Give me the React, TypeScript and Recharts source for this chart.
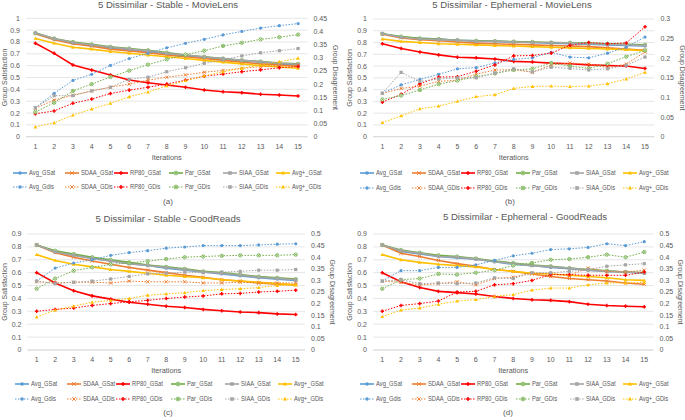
import React from 'react';
import { LineChart, Line, XAxis, YAxis, CartesianGrid, Legend } from 'recharts';

const iterations = [1, 2, 3, 4, 5, 6, 7, 8, 9, 10, 11, 12, 13, 14, 15];
const satLabels = ['Avg_GSat', 'SDAA_GSat', 'RP80_GSat', 'Par_GSat', 'SIAA_GSat', 'Avg+_GSat'];
const disLabels = ['Avg_Gdis', 'SDAA_GDis', 'RP80_GDis', 'Par_GDis', 'SIAA_GDis', 'Avg+_GDis'];
const colors = ['#5B9BD5', '#ED7D31', '#FF0000', '#70AD47', '#A5A5A5', '#FFC000'];
const shapes = ['circle', 'x', 'plus', 'xcircle', 'square', 'triangle'];

const leftTicks10 = [0, 0.1, 0.2, 0.3, 0.4, 0.5, 0.6, 0.7, 0.8, 0.9, 1];
const leftTicks09 = [0, 0.1, 0.2, 0.3, 0.4, 0.5, 0.6, 0.7, 0.8, 0.9];
const rightTicks045 = [0, 0.05, 0.1, 0.15, 0.2, 0.25, 0.3, 0.35, 0.4, 0.45];
const rightTicks03 = [0, 0.05, 0.1, 0.15, 0.2, 0.25, 0.3];
const rightTicks05 = [0, 0.05, 0.1, 0.15, 0.2, 0.25, 0.3, 0.35, 0.4, 0.45, 0.5];

// (a) Stable - MovieLens
const aAvgGSat = [0.875, 0.825, 0.79, 0.77, 0.75, 0.735, 0.72, 0.7, 0.685, 0.67, 0.655, 0.64, 0.63, 0.615, 0.605];
const aSdaaGSat = [0.87, 0.82, 0.785, 0.765, 0.74, 0.725, 0.71, 0.69, 0.675, 0.66, 0.645, 0.63, 0.615, 0.605, 0.595];
const aRp80GSat = [0.789, 0.704, 0.606, 0.563, 0.521, 0.479, 0.456, 0.437, 0.417, 0.394, 0.38, 0.372, 0.358, 0.352, 0.344];
const aParGSat = [0.875, 0.83, 0.8, 0.78, 0.76, 0.745, 0.73, 0.71, 0.69, 0.675, 0.66, 0.645, 0.635, 0.622, 0.615];
const aSiaaGSat = [0.875, 0.828, 0.795, 0.775, 0.755, 0.74, 0.725, 0.705, 0.69, 0.673, 0.66, 0.645, 0.633, 0.62, 0.612];
const aAvgPGSat = [0.83, 0.79, 0.755, 0.74, 0.72, 0.705, 0.69, 0.675, 0.66, 0.645, 0.63, 0.615, 0.6, 0.59, 0.578];
const aAvgGDis = [0.11, 0.165, 0.214, 0.237, 0.271, 0.297, 0.317, 0.338, 0.355, 0.37, 0.387, 0.4, 0.413, 0.422, 0.43];
const aSdaaGDis = [0.108, 0.139, 0.158, 0.174, 0.188, 0.2, 0.215, 0.226, 0.235, 0.245, 0.252, 0.26, 0.266, 0.27, 0.272];
const aRp80GDis = [0.087, 0.098, 0.127, 0.143, 0.164, 0.177, 0.188, 0.2, 0.215, 0.23, 0.238, 0.247, 0.254, 0.262, 0.267];
const aParGDis = [0.094, 0.129, 0.174, 0.2, 0.227, 0.251, 0.274, 0.294, 0.312, 0.327, 0.345, 0.357, 0.37, 0.378, 0.388];
const aSiaaGDis = [0.11, 0.156, 0.156, 0.174, 0.188, 0.218, 0.226, 0.247, 0.262, 0.279, 0.292, 0.307, 0.319, 0.327, 0.335];
const aAvgPGDis = [0.037, 0.053, 0.082, 0.105, 0.127, 0.152, 0.17, 0.193, 0.213, 0.231, 0.247, 0.26, 0.272, 0.285, 0.298];

// (b) Ephemeral - MovieLens
const bAvgGSat = [0.875, 0.845, 0.835, 0.83, 0.82, 0.815, 0.81, 0.805, 0.8, 0.795, 0.79, 0.785, 0.78, 0.775, 0.77];
const bSdaaGSat = [0.87, 0.84, 0.825, 0.815, 0.805, 0.795, 0.79, 0.785, 0.78, 0.775, 0.77, 0.765, 0.755, 0.745, 0.735];
const bRp80GSat = [0.79, 0.75, 0.72, 0.695, 0.675, 0.67, 0.66, 0.64, 0.635, 0.625, 0.62, 0.61, 0.605, 0.6, 0.58];
const bParGSat = [0.875, 0.85, 0.835, 0.83, 0.82, 0.815, 0.812, 0.808, 0.805, 0.8, 0.798, 0.795, 0.79, 0.785, 0.78];
const bSiaaGSat = [0.875, 0.845, 0.83, 0.825, 0.82, 0.81, 0.81, 0.805, 0.8, 0.8, 0.795, 0.79, 0.785, 0.78, 0.775];
const bAvgPGSat = [0.83, 0.81, 0.8, 0.79, 0.785, 0.78, 0.775, 0.77, 0.765, 0.76, 0.755, 0.75, 0.745, 0.74, 0.73];
const bAvgGDis = [0.111, 0.132, 0.146, 0.159, 0.173, 0.176, 0.188, 0.197, 0.201, 0.215, 0.203, 0.201, 0.213, 0.228, 0.254];
const bSdaaGDis = [0.11, 0.123, 0.129, 0.141, 0.144, 0.159, 0.17, 0.171, 0.164, 0.183, 0.188, 0.185, 0.176, 0.185, 0.216];
const bRp80GDis = [0.088, 0.108, 0.135, 0.152, 0.153, 0.167, 0.183, 0.206, 0.207, 0.213, 0.233, 0.24, 0.237, 0.239, 0.28];
const bParGDis = [0.095, 0.105, 0.119, 0.134, 0.143, 0.153, 0.161, 0.17, 0.173, 0.188, 0.18, 0.174, 0.186, 0.204, 0.22];
const bSiaaGDis = [0.111, 0.164, 0.141, 0.147, 0.15, 0.15, 0.162, 0.173, 0.165, 0.177, 0.174, 0.17, 0.173, 0.182, 0.203];
const bAvgPGDis = [0.036, 0.053, 0.071, 0.078, 0.09, 0.102, 0.107, 0.123, 0.128, 0.129, 0.128, 0.129, 0.135, 0.147, 0.164];

// (c) Stable - GoodReads
const cAvgGSat = [0.815, 0.76, 0.735, 0.71, 0.69, 0.67, 0.655, 0.635, 0.62, 0.605, 0.59, 0.575, 0.56, 0.55, 0.54];
const cSdaaGSat = [0.815, 0.755, 0.72, 0.69, 0.665, 0.64, 0.62, 0.6, 0.58, 0.565, 0.545, 0.535, 0.52, 0.51, 0.505];
const cRp80GSat = [0.6, 0.52, 0.46, 0.42, 0.395, 0.37, 0.355, 0.34, 0.33, 0.315, 0.305, 0.295, 0.29, 0.28, 0.275];
const cParGSat = [0.815, 0.77, 0.745, 0.72, 0.7, 0.68, 0.66, 0.645, 0.63, 0.61, 0.6, 0.585, 0.57, 0.56, 0.55];
const cSiaaGSat = [0.815, 0.76, 0.735, 0.71, 0.69, 0.67, 0.655, 0.64, 0.625, 0.605, 0.595, 0.58, 0.565, 0.555, 0.545];
const cAvgPGSat = [0.74, 0.695, 0.665, 0.645, 0.625, 0.61, 0.595, 0.58, 0.57, 0.56, 0.545, 0.535, 0.525, 0.515, 0.505];
const cAvgGDis = [0.297, 0.353, 0.375, 0.389, 0.408, 0.42, 0.428, 0.439, 0.444, 0.45, 0.45, 0.45, 0.453, 0.456, 0.458];
const cSdaaGDis = [0.294, 0.289, 0.292, 0.292, 0.289, 0.297, 0.294, 0.294, 0.294, 0.289, 0.289, 0.292, 0.289, 0.289, 0.289];
const cRp80GDis = [0.167, 0.175, 0.181, 0.192, 0.2, 0.208, 0.214, 0.222, 0.228, 0.233, 0.242, 0.244, 0.25, 0.253, 0.258];
const cParGDis = [0.264, 0.308, 0.342, 0.356, 0.369, 0.375, 0.383, 0.392, 0.4, 0.403, 0.406, 0.408, 0.408, 0.408, 0.411];
const cSiaaGDis = [0.297, 0.286, 0.292, 0.297, 0.306, 0.317, 0.328, 0.331, 0.336, 0.333, 0.336, 0.339, 0.344, 0.344, 0.347];
const cAvgPGDis = [0.142, 0.172, 0.189, 0.206, 0.214, 0.222, 0.236, 0.242, 0.247, 0.256, 0.261, 0.264, 0.269, 0.278, 0.281];

// (d) Ephemeral - GoodReads
const dAvgGSat = [0.815, 0.765, 0.745, 0.725, 0.715, 0.705, 0.685, 0.665, 0.655, 0.64, 0.63, 0.62, 0.61, 0.605, 0.595];
const dSdaaGSat = [0.815, 0.75, 0.725, 0.695, 0.67, 0.65, 0.625, 0.61, 0.59, 0.57, 0.555, 0.545, 0.535, 0.52, 0.51];
const dRp80GSat = [0.6, 0.53, 0.485, 0.455, 0.445, 0.435, 0.415, 0.4, 0.39, 0.385, 0.375, 0.355, 0.345, 0.34, 0.335];
const dParGSat = [0.815, 0.775, 0.755, 0.735, 0.725, 0.71, 0.69, 0.675, 0.66, 0.65, 0.635, 0.625, 0.615, 0.605, 0.6];
const dSiaaGSat = [0.815, 0.77, 0.75, 0.725, 0.72, 0.705, 0.685, 0.67, 0.655, 0.645, 0.635, 0.62, 0.61, 0.605, 0.595];
const dAvgPGSat = [0.74, 0.7, 0.68, 0.665, 0.655, 0.645, 0.625, 0.61, 0.595, 0.59, 0.58, 0.57, 0.56, 0.545, 0.54];
const dAvgGDis = [0.297, 0.342, 0.342, 0.356, 0.356, 0.367, 0.386, 0.406, 0.417, 0.433, 0.436, 0.442, 0.458, 0.45, 0.467];
const dSdaaGDis = [0.297, 0.292, 0.281, 0.286, 0.294, 0.281, 0.308, 0.314, 0.331, 0.328, 0.322, 0.353, 0.339, 0.336, 0.344];
const dRp80GDis = [0.167, 0.192, 0.2, 0.211, 0.25, 0.253, 0.281, 0.286, 0.3, 0.325, 0.325, 0.322, 0.322, 0.322, 0.336];
const dParGDis = [0.264, 0.303, 0.308, 0.328, 0.325, 0.333, 0.344, 0.364, 0.375, 0.389, 0.392, 0.4, 0.411, 0.4, 0.422];
const dSiaaGDis = [0.297, 0.303, 0.286, 0.289, 0.286, 0.289, 0.311, 0.308, 0.333, 0.333, 0.339, 0.347, 0.361, 0.367, 0.372];
const dAvgPGDis = [0.144, 0.172, 0.181, 0.197, 0.211, 0.217, 0.231, 0.239, 0.258, 0.267, 0.267, 0.281, 0.289, 0.289, 0.292];

const FONT = '"Liberation Sans", Arial, sans-serif';
const TEXT = '#595959';
const colOffsets = [0, 52, 101, 156, 210, 263];

const panels = [
  {
    key: 'a', title: '5 Dissimilar - Stable - MovieLens', label: '(a)',
    left: 0, top: 0, width: 342, height: 210,
    plotLeft: 26, plotRight: 307.5, plotTop: 18.3, plotBottom: 136.7,
    leftMax: 1, leftTicks: leftTicks10, rightMax: 0.45, rightTicks: rightTicks045,
    titleX: 168, titleY: 5, labelX: 168, legendBase: 13, rows: [9, 23, 38],
    leftLabelX: 5, rightLabelX: 335,
    sat: [aAvgGSat, aSdaaGSat, aRp80GSat, aParGSat, aSiaaGSat, aAvgPGSat],
    dis: [aAvgGDis, aSdaaGDis, aRp80GDis, aParGDis, aSiaaGDis, aAvgPGDis],
  },
  {
    key: 'b', title: '5 Dissimilar - Ephemeral - MovieLens', label: '(b)',
    left: 340, top: 0, width: 345, height: 210,
    plotLeft: 33, plotRight: 314.4, plotTop: 19, plotBottom: 136.7,
    leftMax: 1, leftTicks: leftTicks10, rightMax: 0.3, rightTicks: rightTicks03,
    titleX: 172, titleY: 5, labelX: 170, legendBase: 20, rows: [9, 24, 38],
    leftLabelX: 10, rightLabelX: 342,
    sat: [bAvgGSat, bSdaaGSat, bRp80GSat, bParGSat, bSiaaGSat, bAvgPGSat],
    dis: [bAvgGDis, bSdaaGDis, bRp80GDis, bParGDis, bSiaaGDis, bAvgPGDis],
  },
  {
    key: 'c', title: '5 Dissimilar - Stable - GoodReads', label: '(c)',
    left: 0, top: 210, width: 342, height: 210,
    plotLeft: 27.4, plotRight: 305, plotTop: 24, plotBottom: 140,
    leftMax: 0.9, leftTicks: leftTicks09, rightMax: 0.5, rightTicks: rightTicks05,
    titleX: 168, titleY: 9, labelX: 168, legendBase: 15, rows: [10, 25, 39],
    leftLabelX: 5, rightLabelX: 332,
    sat: [cAvgGSat, cSdaaGSat, cRp80GSat, cParGSat, cSiaaGSat, cAvgPGSat],
    dis: [cAvgGDis, cSdaaGDis, cRp80GDis, cParGDis, cSiaaGDis, cAvgPGDis],
  },
  {
    key: 'd', title: '5 Dissimilar - Ephemeral - GoodReads', label: '(d)',
    left: 340, top: 210, width: 345, height: 210,
    plotLeft: 32.9, plotRight: 313.6, plotTop: 24, plotBottom: 140,
    leftMax: 0.9, leftTicks: leftTicks09, rightMax: 0.5, rightTicks: rightTicks05,
    titleX: 185, titleY: 7, labelX: 168, legendBase: 20, rows: [10, 25, 39],
    leftLabelX: 10, rightLabelX: 340,
    sat: [dAvgGSat, dSdaaGSat, dRp80GSat, dParGSat, dSiaaGSat, dAvgPGSat],
    dis: [dAvgGDis, dSdaaGDis, dRp80GDis, dParGDis, dSiaaGDis, dAvgPGDis],
  },
];

function Marker({ cx, cy, shape, color, s }: any) {
  if (cx == null || cy == null || isNaN(cx) || isNaN(cy)) return null;
  switch (shape) {
    case 'circle':
      return <circle cx={cx} cy={cy} r={s} fill={color} stroke="none" />;
    case 'square':
      return <rect x={cx - s} y={cy - s} width={2 * s} height={2 * s} fill={color} stroke="none" />;
    case 'triangle':
      return (
        <polygon
          points={`${cx},${cy - s * 1.2} ${cx - s * 1.15},${cy + s * 0.9} ${cx + s * 1.15},${cy + s * 0.9}`}
          fill={color}
          stroke="none"
        />
      );
    case 'x':
      return (
        <g stroke={color} strokeWidth={1} fill="none" strokeDasharray="none">
          <line x1={cx - s} y1={cy - s} x2={cx + s} y2={cy + s} />
          <line x1={cx - s} y1={cy + s} x2={cx + s} y2={cy - s} />
        </g>
      );
    case 'plus':
      return (
        <g stroke={color} strokeWidth={1.4} fill="none" strokeDasharray="none">
          <line x1={cx - s * 1.1} y1={cy} x2={cx + s * 1.1} y2={cy} />
          <line x1={cx} y1={cy - s * 1.1} x2={cx} y2={cy + s * 1.1} />
        </g>
      );
    case 'xcircle':
    default:
      return (
        <g stroke={color} strokeWidth={0.8} fill="none" strokeDasharray="none">
          <circle cx={cx} cy={cy} r={s * 1.05} fill="#fff" />
          <line x1={cx - s * 0.7} y1={cy - s * 0.7} x2={cx + s * 0.7} y2={cy + s * 0.7} />
          <line x1={cx - s * 0.7} y1={cy + s * 0.7} x2={cx + s * 0.7} y2={cy - s * 0.7} />
        </g>
      );
  }
}

const makeDot = (shape: string, color: string, s: number, tag: string) => (p: any) => (
  <Marker key={`${tag}-${p.index}`} cx={p.cx} cy={p.cy} shape={shape} color={color} s={s} />
);

function LegendBox({ cfg }: any) {
  const names = satLabels.concat(disLabels);
  return (
    <div style={{ position: 'relative', width: cfg.width, height: 46, fontFamily: FONT, fontSize: 7.6, color: TEXT }}>
      {names.map((name, i) => {
        const j = i % 6;
        const row = Math.floor(i / 6);
        const dashed = row === 1;
        return (
          <div
            key={name}
            style={{
              position: 'absolute', left: cfg.legendBase + colOffsets[j], top: cfg.rows[row] - 5,
              height: 10, display: 'flex', alignItems: 'center', whiteSpace: 'nowrap',
            }}
          >
            <svg width={14} height={8} style={{ display: 'block' }}>
              <line x1={0} y1={4} x2={14} y2={4} stroke={colors[j]} strokeWidth={dashed ? 1 : 1.6}
                strokeDasharray={dashed ? '1.5 1.5' : undefined} />
              <Marker cx={7} cy={4} shape={shapes[j]} color={colors[j]} s={1.8} />
            </svg>
            <span style={{
              marginLeft: 2, lineHeight: '10px', display: 'inline-block',
              transform: 'scaleX(0.76)', transformOrigin: 'left center',
            }}>{name}</span>
          </div>
        );
      })}
      <div style={{
        position: 'absolute', left: cfg.labelX - 20, width: 40, top: cfg.rows[2] - 6, height: 12,
        lineHeight: '12px', textAlign: 'center', fontSize: 8, color: TEXT,
      }}>{cfg.label}</div>
    </div>
  );
}

const fmt = (v: number) => String(Math.round(v * 100) / 100);

function Panel({ cfg }: any) {
  const data = iterations.map((it, i) => {
    const row: any = { iter: it };
    satLabels.forEach((k, j) => { row[k] = cfg.sat[j][i]; });
    disLabels.forEach((k, j) => { row[k] = cfg.dis[j][i]; });
    return row;
  });
  const plotW = cfg.plotRight - cfg.plotLeft;
  const half = plotW / 15 / 2;
  const legendH = 46;
  const xAxisH = cfg.height - cfg.plotBottom - legendH;
  const tickStyle = { fontSize: 7, fill: TEXT, fontFamily: FONT };
  return (
    <div style={{ position: 'absolute', left: cfg.left, top: cfg.top, width: cfg.width, height: cfg.height }}>
      <div style={{
        position: 'absolute', left: cfg.titleX - 150, width: 300, top: cfg.titleY - 7, height: 14,
        lineHeight: '14px', textAlign: 'center', fontSize: 9.6, color: TEXT, fontFamily: FONT, zIndex: 2,
      }}>{cfg.title}</div>
      <LineChart
        width={cfg.width}
        height={cfg.height}
        data={data}
        margin={{ top: cfg.plotTop, right: 0, bottom: 0, left: 0 }}
        style={{ fontFamily: FONT }}
      >
        <CartesianGrid yAxisId="l" vertical={false} stroke="#E0E0E0" strokeWidth={0.8} />
        <XAxis
          dataKey="iter"
          padding={{ left: half, right: half }}
          height={xAxisH}
          tickLine={false}
          axisLine={{ stroke: '#D9D9D9' }}
          tick={tickStyle}
          tickSize={5}
          tickMargin={2}
          interval={0}
          label={{ value: 'Iterations', position: 'insideBottom', offset: xAxisH - 23, style: { fontSize: 7.3, fill: TEXT, fontFamily: FONT } }}
        />
        <YAxis
          yAxisId="l"
          width={cfg.plotLeft}
          domain={[0, cfg.leftMax]}
          ticks={cfg.leftTicks}
          interval={0}
          tickFormatter={fmt}
          axisLine={false}
          tickLine={false}
          tickSize={4}
          tickMargin={2}
          tick={tickStyle}
          label={{ value: 'Group Satisfaction', angle: -90, position: 'insideLeft', offset: cfg.leftLabelX, style: { textAnchor: 'middle', fontSize: 7, fill: TEXT, fontFamily: FONT } }}
        />
        <YAxis
          yAxisId="r"
          orientation="right"
          width={cfg.width - cfg.plotRight}
          domain={[0, cfg.rightMax]}
          ticks={cfg.rightTicks}
          interval={0}
          tickFormatter={fmt}
          axisLine={false}
          tickLine={false}
          tickSize={4}
          tickMargin={2}
          tick={tickStyle}
          label={{ value: 'Group Disagreement', angle: 90, position: 'insideRight', offset: cfg.width - cfg.rightLabelX, style: { textAnchor: 'middle', fontSize: 7, fill: TEXT, fontFamily: FONT } }}
        />
        {satLabels.map((k, j) => (
          <Line
            key={k}
            yAxisId="l"
            dataKey={k}
            stroke={colors[j]}
            strokeWidth={1.6}
            dot={makeDot(shapes[j], colors[j], 1.6, cfg.key + k)}
            activeDot={false}
            isAnimationActive={false}
          />
        ))}
        {disLabels.map((k, j) => (
          <Line
            key={k}
            yAxisId="r"
            dataKey={k}
            stroke={colors[j]}
            strokeWidth={1}
            strokeDasharray="1.5 1.5"
            dot={makeDot(shapes[j], colors[j], 1.6, cfg.key + k)}
            activeDot={false}
            isAnimationActive={false}
          />
        ))}
        <Legend verticalAlign="bottom" height={legendH} content={() => <LegendBox cfg={cfg} />} />
      </LineChart>
    </div>
  );
}

export default function App() {
  return (
    <div style={{ position: 'absolute', left: 0, top: 0, width: 685, height: 420, background: '#fff', overflow: 'hidden' }}>
      {panels.map((p) => (
        <Panel key={p.key} cfg={p} />
      ))}
    </div>
  );
}
